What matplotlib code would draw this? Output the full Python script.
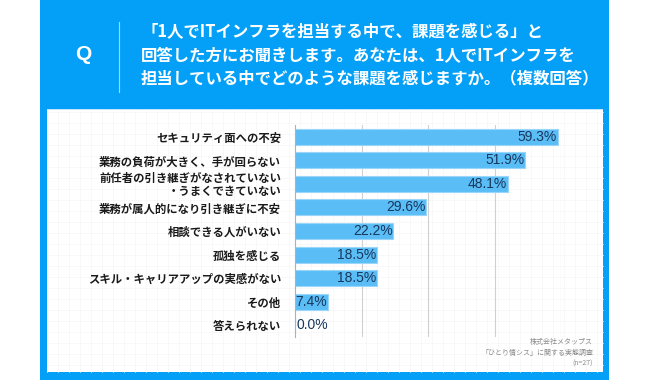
import matplotlib
matplotlib.use("Agg")
import matplotlib.pyplot as plt
from matplotlib.patches import Rectangle
from matplotlib.lines import Line2D

categories = [
    "セキュリティ面への不安",
    "業務の負荷が大きく、手が回らない",
    "前任者の引き継ぎがなされていない\n・うまくできていない",
    "業務が属人的になり引き継ぎに不安",
    "相談できる人がいない",
    "孤独を感じる",
    "スキル・キャリアアップの実感がない",
    "その他",
    "答えられない",
]
values = [59.3, 51.9, 48.1, 29.6, 22.2, 18.5, 18.5, 7.4, 0.0]
value_labels = [f"{v:.1f}%" for v in values]
xticks = [15, 30, 45, 60]

title_lines = [
    "「1人でITインフラを担当する中で、課題を感じる」と",
    "回答した方にお聞きします。あなたは、1人でITインフラを",
    "担当している中でどのような課題を感じますか。（複数回答）",
]
footnote = ["株式会社メタップス", "「ひとり情シス」に関する実態調査", "(n=27)"]

plt.rcParams['font.family'] = ['Noto Sans CJK JP', 'DejaVu Sans']

W, H = 650, 380
fig = plt.figure(figsize=(6.5, 3.8), dpi=100)
fig.patch.set_facecolor("white")

BLUE = "#04A0F8"

def fx(x):
    return x / W

def fy(y):
    return 1 - y / H

# blue panel + white interior
fig.patches.append(Rectangle((fx(40), 0), fx(609) - fx(40), 1, transform=fig.transFigure,
                             facecolor=BLUE, edgecolor="none", zorder=-3))
fig.patches.append(Rectangle((fx(47), fy(372)), fx(603) - fx(47), fy(109) - fy(372),
                             transform=fig.transFigure, facecolor="white", edgecolor="none", zorder=-2))
fig.patches.append(Rectangle((fx(47), fy(110)), fx(603) - fx(47), 1.5 / H,
                             transform=fig.transFigure, facecolor="#bfe6fd", edgecolor="none", zorder=-1))

# faint background grid
for gx in range(47, 603, 11):
    fig.add_artist(Line2D([fx(gx), fx(gx)], [fy(372), fy(111)], transform=fig.transFigure,
                          color="#f6f6f6", lw=0.5, zorder=-1))
for gy in range(112, 372, 11):
    fig.add_artist(Line2D([fx(47), fx(603)], [fy(gy), fy(gy)], transform=fig.transFigure,
                          color="#f6f6f6", lw=0.5, zorder=-1))

# header
fig.text(fx(83), fy(55), "Q", color="white", fontsize=15, fontweight="bold",
         ha="center", va="center", family=["Liberation Sans", "DejaVu Sans"])
fig.add_artist(Line2D([fx(119), fx(119)], [fy(22), fy(92)], transform=fig.transFigure,
                      color="#9fd8fc", lw=0.8))
for i, line in enumerate(title_lines):
    fig.text(fx(141), fy(32 + 23 * i), line, color="white", fontsize=11.8, fontweight="bold",
             ha="left", va="center")

# chart axes
ax = fig.add_axes([fx(295), fy(337), fx(561) - fx(295), fy(125) - fy(337)])
ax.set_zorder(5)
ax.set_facecolor("none")
ypos = list(range(len(categories)))
ax.barh(ypos, values, height=0.68, color="#5BBDF6", edgecolor="#9ad6fa", linewidth=0.8, zorder=2)
ax.set_xlim(0, 60)
ax.set_ylim(len(categories) - 0.5, -0.5)
ax.set_xticks(xticks)
ax.xaxis.grid(True, color="#d0d0d0", lw=0.8, zorder=1)
ax.set_axisbelow(True)
ax.tick_params(axis="x", length=0, labelbottom=False)
ax.tick_params(axis="y", length=0, pad=10)
ax.set_yticks(ypos)
ax.set_yticklabels(categories, fontsize=8.2, fontweight="bold", color="#1a1a1a", linespacing=1.0)
for s in ["top", "right", "bottom"]:
    ax.spines[s].set_visible(False)
ax.spines["left"].set_color("#b0b0b0")
ax.spines["left"].set_linewidth(0.8)

for y, v, lab in zip(ypos, values, value_labels):
    if v >= 7:
        ax.text(v - 0.2, y, lab, ha="right", va="center", fontsize=10, color="#17375c",
                family=["Liberation Sans", "DejaVu Sans"], zorder=3)
    else:
        ax.text(0.3, y, lab, ha="left", va="center", fontsize=10, color="#17375c",
                family=["Liberation Sans", "DejaVu Sans"], zorder=3)

for i, t in enumerate(footnote):
    fig.text(fx(593), fy(342 + 11 * i), t, ha="right", va="center", fontsize=5.0, color="#8a8a8a")

fig.savefig("out.png", dpi=100, facecolor="white")
